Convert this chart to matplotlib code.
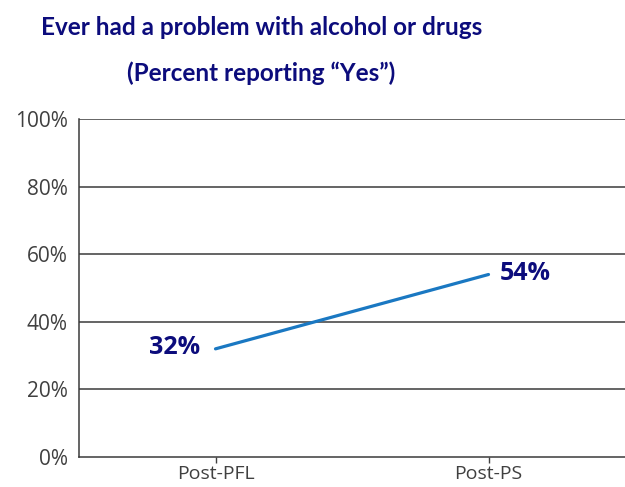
import matplotlib.pyplot as plt

plt.rcParams['font.family'] = ['Open Sans', 'DejaVu Sans']

# data
categories = ['Post-PFL', 'Post-PS']
values = [32, 54]
yticks = [0, 20, 40, 60, 80, 100]
title_lines = ['Ever had a problem with alcohol or drugs', '(Percent reporting \u201cYes\u201d)']

navy = '#0c0c7c'
grey = '#404040'

fig = plt.figure(figsize=(6.25, 4.87), dpi=100)
ax = fig.add_axes([0.1264, 0.0616, 0.8736, 0.694])

x = range(len(categories))
ax.plot(x, values, color='#1a78c2', linewidth=2.3, solid_capstyle='round')

ax.set_xlim(-0.5, 1.5)
ax.set_ylim(0, 100)
ax.set_yticks(yticks)
ax.set_yticklabels(['{}%'.format(v) for v in yticks], fontsize=15, color=grey)
ax.set_xticks(list(x))
ax.set_xticklabels(categories, fontsize=14, color=grey)
ax.tick_params(axis='y', length=0, pad=8)
ax.tick_params(axis='x', length=4.5, width=1, color=grey, pad=1, direction='out')

for v in yticks[1:]:
    ax.axhline(v, color='#3a3a3a', linewidth=1.1, zorder=0)

for s in ['top', 'right']:
    ax.spines[s].set_visible(False)
for s in ['left', 'bottom']:
    ax.spines[s].set_color('#3a3a3a')
    ax.spines[s].set_linewidth(1.1)

# labels next to the points
ax.annotate('{}%'.format(values[0]), (0, values[0]), xytext=(-11, 1), textcoords='offset points',
            ha='right', va='center', fontsize=18, fontweight='bold', color=navy)
ax.annotate('{}%'.format(values[1]), (1, values[1]), xytext=(8, 1), textcoords='offset points',
            ha='left', va='center', fontsize=18, fontweight='bold', color=navy)

title_font = ['Lato', 'DejaVu Sans']
fig.text(0.418, 0.943, title_lines[0], ha='center', va='center', fontsize=17.5,
         fontweight='bold', color=navy, family=title_font)
fig.text(0.418, 0.850, title_lines[1], ha='center', va='center', fontsize=17.5,
         fontweight='bold', color=navy, family=title_font)

fig.savefig('out.png', dpi=100)
